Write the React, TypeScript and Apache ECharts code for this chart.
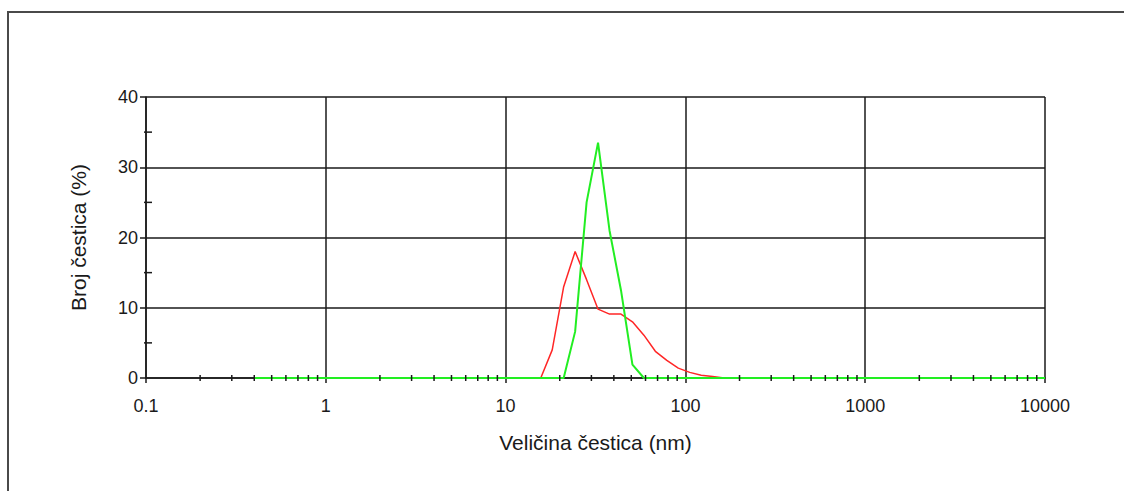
import React, { useEffect, useRef } from "react";
import * as echarts from "echarts";

// Size bins (nm)
const sizes = [
  0.4, 0.4632, 0.5365, 0.6213, 0.7195, 0.8332, 0.9649, 1.117, 1.294, 1.499,
  1.736, 2.01, 2.328, 2.696, 3.122, 3.615, 4.187, 4.849, 5.615, 6.503,
  7.531, 8.721, 10.1, 11.7, 13.54, 15.69, 18.17, 21.04, 24.36, 28.21,
  32.67, 37.84, 43.82, 50.75, 58.77, 68.06, 78.82, 91.28, 105.7, 122.4,
  141.8, 164.2, 190.1, 220.2, 255, 295.3, 342, 396.1, 458.7, 531.2,
  615.1, 712.4, 825, 955.4, 1106, 1281, 1484, 1718, 1990, 2305,
  2669, 3091, 3580, 4145, 4801, 5560, 6439, 7456, 8635, 10000,
];

// Number (%) - red sample
const redValues = [
  0, 0, 0, 0, 0, 0, 0, 0, 0, 0,
  0, 0, 0, 0, 0, 0, 0, 0, 0, 0,
  0, 0, 0, 0, 0, 0, 4, 13, 18, 14,
  9.8, 9.1, 9.1, 8, 6.1, 3.8, 2.5, 1.4, 0.8, 0.4,
  0.2, 0, 0, 0, 0, 0, 0, 0, 0, 0,
  0, 0, 0, 0, 0, 0, 0, 0, 0, 0,
  0, 0, 0, 0, 0, 0, 0, 0, 0, 0,
];

// Number (%) - green sample
const greenValues = [
  0, 0, 0, 0, 0, 0, 0, 0, 0, 0,
  0, 0, 0, 0, 0, 0, 0, 0, 0, 0,
  0, 0, 0, 0, 0, 0, 0, 0, 6.6, 25,
  33.5, 21, 12.5, 1.9, 0, 0, 0, 0, 0, 0,
  0, 0, 0, 0, 0, 0, 0, 0, 0, 0,
  0, 0, 0, 0, 0, 0, 0, 0, 0, 0,
  0, 0, 0, 0, 0, 0, 0, 0, 0, 0,
];

// Minor tick positions
const xMinorTicks = [
  0.2, 0.3, 0.4, 0.5, 0.6, 0.7, 0.8, 0.9,
  2, 3, 4, 5, 6, 7, 8, 9,
  20, 30, 40, 50, 60, 70, 80, 90,
  200, 300, 400, 500, 600, 700, 800, 900,
  2000, 3000, 4000, 5000, 6000, 7000, 8000, 9000,
];
const yMinorTicks = [5, 15, 25, 35];

const xTitle = "Veličina čestica (nm)";
const yTitle = "Broj čestica (%)";

const FONT = "Liberation Sans, Arial, sans-serif";
const INK = "#1a1a1a";

export default function App() {
  const ref = useRef<HTMLDivElement>(null);

  useEffect(() => {
    if (!ref.current) return;
    const chart = echarts.init(ref.current, null, { renderer: "svg" });
    const red = sizes.map((s, i) => [s, redValues[i]]);
    const green = sizes.map((s, i) => [s, greenValues[i]]);

    chart.setOption({
      animation: false,
      backgroundColor: "#ffffff",
      graphic: [
        {
          type: "rect",
          shape: { x: 8, y: 12, width: 1200, height: 600 },
          style: { fill: "none", stroke: "#4a4a4a", lineWidth: 2 },
          silent: true,
        },
      ],
      grid: { left: 146, right: 79, top: 97, bottom: 113, containLabel: false },
      xAxis: {
        type: "log",
        logBase: 10,
        min: 0.1,
        max: 10000,
        splitNumber: 5,
        name: xTitle,
        nameLocation: "middle",
        nameGap: 54,
        nameTextStyle: { fontFamily: FONT, fontSize: 21, color: INK },
        axisLine: { show: true, lineStyle: { color: INK, width: 1.5 } },
        axisTick: { show: true, length: 5, lineStyle: { color: INK, width: 1.5 } },
        axisLabel: {
          fontFamily: FONT,
          fontSize: 18,
          color: INK,
          margin: 19,
          formatter: (v: number) => String(Math.round(v * 1000) / 1000),
        },
        splitLine: { show: true, lineStyle: { color: INK, width: 1.5 } },
      },
      yAxis: {
        type: "value",
        min: 0,
        max: 40,
        interval: 10,
        name: yTitle,
        nameLocation: "middle",
        nameGap: 57,
        nameTextStyle: { fontFamily: FONT, fontSize: 21, color: INK },
        axisLine: { show: true, lineStyle: { color: INK, width: 1.5 } },
        axisTick: { show: true, length: 6, lineStyle: { color: INK, width: 1.5 } },
        axisLabel: { fontFamily: FONT, fontSize: 18, color: INK, margin: 8 },
        splitLine: { show: true, lineStyle: { color: INK, width: 1.5 } },
      },
      series: [
        {
          type: "line",
          data: red,
          showSymbol: false,
          symbol: "none",
          lineStyle: { color: "#ff2626", width: 1.5 },
          z: 3,
          silent: true,
        },
        {
          type: "line",
          data: green,
          showSymbol: false,
          symbol: "none",
          lineStyle: { color: "#22ee22", width: 2 },
          z: 4,
          silent: true,
        },
        {
          type: "custom",
          data: xMinorTicks.map((v) => [v, 0]),
          clip: false,
          silent: true,
          z: 6,
          renderItem: (_p: any, api: any) => {
            const pt = api.coord([api.value(0), 0]);
            return {
              type: "line",
              shape: { x1: pt[0], y1: pt[1] - 3, x2: pt[0], y2: pt[1] + 3 },
              style: { stroke: INK, lineWidth: 1.5 },
            };
          },
        },
        {
          type: "custom",
          data: yMinorTicks.map((v) => [0.1, v]),
          clip: false,
          silent: true,
          z: 6,
          renderItem: (_p: any, api: any) => {
            const pt = api.coord([0.1, api.value(1)]);
            return {
              type: "line",
              shape: { x1: pt[0] - 2, y1: pt[1], x2: pt[0] + 6, y2: pt[1] },
              style: { stroke: INK, lineWidth: 1.5 },
            };
          },
        },
      ],
    });
    return () => chart.dispose();
  }, []);

  return (
    <div
      ref={ref}
      style={{ position: "fixed", left: 0, top: 0, width: 1124, height: 491 }}
    />
  );
}
